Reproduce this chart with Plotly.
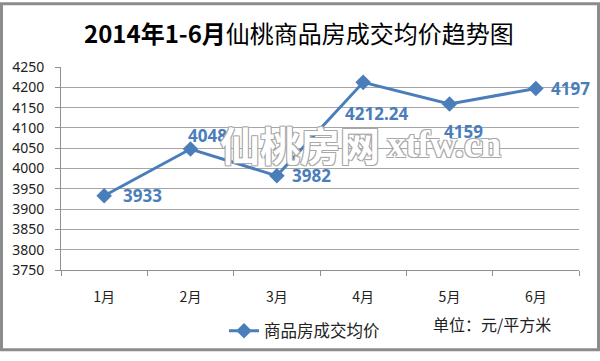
import plotly.graph_objects as go

months = ["1月", "2月", "3月", "4月", "5月", "6月"]
avg_price = [3933, 4048, 3982, 4212.24, 4159, 4197]
series_name = "商品房成交均价"
title_text = "<b>2014年1-6月</b>仙桃商品房成交均价趋势图"
unit_text = "单位：元/平方米"

BLUE = "#4a7ebb"
W, H = 600, 361
ML, MR, MT, MB = 61, 21, 67, 84
PW, PH = W - ML - MR, H - MT - MB


def px_x(p):
    return (p - ML) / PW


def px_y(p):
    return 1 - (p - MT) / PH


# label offsets (pixels) for data labels
label_dx = [38, 17, 35, 13, 14, 35]
label_dy = [0, 14, 0, -31, -28, 0]

fig = go.Figure()
fig.add_trace(go.Scatter(
    x=months, y=avg_price, mode="lines+markers", name=series_name,
    line=dict(color=BLUE, width=3),
    marker=dict(symbol="diamond", size=12, color=BLUE),
))

anns = []
for m, v, dx, dy in zip(months, avg_price, label_dx, label_dy):
    anns.append(dict(x=m, y=v, text=f"{v:g}", showarrow=False,
                     xanchor="center", yanchor="middle",
                     xshift=dx, yshift=dy,
                     font=dict(family="Noto Sans", size=17, color=BLUE, weight="bold")))

outline = "1px 1px 0 #a8a8a8, -1px -1px 0 #a8a8a8, 1px -1px 0 #a8a8a8, -1px 1px 0 #a8a8a8"
anns.append(dict(xref="paper", yref="paper", x=px_x(300), y=px_y(147), text="仙桃房网",
                 showarrow=False, xanchor="center", yanchor="middle",
                 font=dict(family="Noto Sans CJK SC", size=40, color="white", weight="bold",
                           shadow=outline)))
anns.append(dict(xref="paper", yref="paper", x=px_x(444), y=px_y(147), text="xtfw.cn",
                 showarrow=False, xanchor="center", yanchor="middle",
                 font=dict(family="Liberation Serif", size=37, color="white", weight="bold",
                           shadow=outline)))
anns.append(dict(xref="paper", yref="paper", x=px_x(299), y=px_y(31), text=title_text,
                 showarrow=False, xanchor="center", yanchor="middle",
                 font=dict(family="Noto Sans CJK SC", size=24, color="black")))
anns.append(dict(xref="paper", yref="paper", x=px_x(491.5), y=px_y(333), text=unit_text,
                 showarrow=False, xanchor="center", yanchor="middle",
                 font=dict(family="Noto Sans CJK SC", size=16, color="#222")))

fig.update_layout(
    width=W, height=H,
    margin=dict(l=ML, r=MR, t=MT, b=MB),
    paper_bgcolor="white", plot_bgcolor="white",
    showlegend=True,
    legend=dict(orientation="h", x=px_x(224), y=px_y(322), xanchor="left", yanchor="top",
                font=dict(family="Noto Sans CJK SC", size=16.5, color="#222"),
                bgcolor="rgba(0,0,0,0)"),
    annotations=anns,
    shapes=[dict(type="rect", xref="paper", yref="paper",
                 x0=px_x(1.5), x1=px_x(598.5), y0=px_y(359.5), y1=px_y(1.5),
                 line=dict(color="#8c8c8c", width=3), layer="above")],
)
fig.update_xaxes(
    type="category", range=[-0.5, 5.5], showgrid=False,
    showline=True, linecolor="#909090", linewidth=1,
    ticks="outside", tickson="boundaries", ticklen=5, tickcolor="#909090",
    ticklabelstandoff=14,
    tickfont=dict(family="Noto Sans CJK SC", size=14, color="#222"),
)
fig.update_yaxes(
    range=[3750, 4250], dtick=50, tick0=3750,
    showgrid=True, gridcolor="#a6a6a6", gridwidth=1,
    showline=True, linecolor="#909090", linewidth=1,
    ticks="outside", ticklen=5, tickcolor="#909090",
    ticklabelstandoff=8, zeroline=False,
    tickfont=dict(family="Noto Sans", size=14, color="#222"),
)

fig.write_html("out.html")
